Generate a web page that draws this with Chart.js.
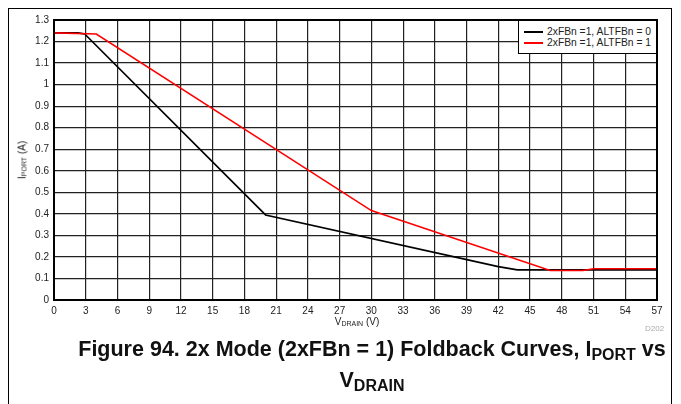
<!DOCTYPE html>
<html>
<head>
<meta charset="utf-8">
<script src="https://cdn.jsdelivr.net/npm/chart.js@4/dist/chart.umd.min.js"></script>
<style>
  body { margin: 0; background: #fff; font-family: "Liberation Sans", Arial, sans-serif; }
  #wrap { position: relative; width: 681px; height: 404px; overflow: hidden; }
  #frame { position: absolute; left: 8px; top: 8px; width: 664px; height: 420px; border: 1.5px solid #000; box-sizing: border-box; }
  canvas { position: absolute; left: 0; top: 0; }
  .lbl { position: absolute; color: #222; font-size: 10px; white-space: nowrap; }
  .lbl sub { font-size: 7px; vertical-align: -1px; }
  #ytitle { left: 22px; top: 160px; transform: translate(-50%, -50%) rotate(-90deg); }
  #xtitle { left: 357px; top: 316px; transform: translateX(-50%); }
  #code { left: 645px; top: 324px; font-size: 8px; color: #aaa; }
  #legend { position: absolute; left: 518px; top: 20px; width: 139px; height: 34px; border: 1.5px solid #000; background: #fff; box-sizing: border-box; font-size: 10.3px; color: #222; }
  #legend div { position: relative; height: 11px; line-height: 11px; padding-left: 28px; }
  #legend div span { position: absolute; left: 5px; top: 5px; width: 19px; height: 1.5px; }
  #caption { position: absolute; left: 0; width: 744px; top: 334px; text-align: center; font-weight: bold; font-size: 21.5px; line-height: 31px; color: #111; }
  #caption sub { font-size: 16px; vertical-align: -4px; line-height: 0; }
</style>
</head>
<body>
<div id="wrap">
  <div id="frame"></div>
  <canvas id="chart" width="681" height="404"></canvas>
  <div class="lbl" id="ytitle">I<sub>PORT</sub> (A)</div>
  <div class="lbl" id="xtitle">V<sub>DRAIN</sub> (V)</div>
  <div class="lbl" id="code">D202</div>
  <div id="legend"></div>
  <div id="caption">Figure 94. 2x Mode (2xFBn = 1) Foldback Curves, I<sub>PORT</sub> vs<br>V<sub>DRAIN</sub></div>
</div>
<script>
// series names
const nombres = ["2xFBn =1, ALTFBn = 0", "2xFBn =1, ALTFBn = 1"];
const colores = ["#000000", "#ff0000"];

// 2xFBn = 1, ALTFBn = 0
const vNegro = [0, 2.3, 2.9, 20, 42, 43.8, 57];
const iNegro = [1.24, 1.24, 1.235, 0.395, 0.155, 0.14, 0.14];

// 2xFBn = 1, ALTFBn = 1
const vRojo = [0, 4, 30, 46.9, 50, 51, 57];
const iRojo = [1.24, 1.235, 0.415, 0.137, 0.137, 0.145, 0.145];

// axes
const xMin = 0, xMax = 57, xPaso = 3;
const yMin = 0, yMax = 1.3, yPaso = 0.1;

function puntos(xs, ys) {
  return xs.map((x, i) => ({ x: x, y: ys[i] }));
}

// plot border drawn as a box round the chart area
const marco = {
  id: "marco",
  afterDraw(chart) {
    const a = chart.chartArea;
    const c = chart.ctx;
    c.save();
    c.strokeStyle = "#000";
    c.lineWidth = 2;
    c.strokeRect(a.left, a.top, a.right - a.left, a.bottom - a.top);
    c.restore();
  }
};

const ctx = document.getElementById("chart").getContext("2d");
const fuente = { family: "'Liberation Sans', Arial, sans-serif", size: 10 };

new Chart(ctx, {
  type: "line",
  data: {
    datasets: [
      { label: nombres[0], data: puntos(vNegro, iNegro), borderColor: colores[0], borderWidth: 1.6, pointRadius: 0, tension: 0, order: 2 },
      { label: nombres[1], data: puntos(vRojo, iRojo), borderColor: colores[1], borderWidth: 1.6, pointRadius: 0, tension: 0, order: 1 }
    ]
  },
  options: {
    responsive: false,
    animation: false,
    layout: { padding: { left: 0, top: 20, right: 24, bottom: 84 } },
    plugins: { legend: { display: false }, tooltip: { enabled: false } },
    scales: {
      x: {
        type: "linear", min: xMin, max: xMax,
        afterFit: s => { s.height = 20; },
        ticks: { stepSize: xPaso, color: "#222", font: fuente, padding: 5, maxRotation: 0 },
        grid: { color: "#222", lineWidth: 1.2, drawTicks: false },
        border: { display: true, color: "#000", width: 2 }
      },
      y: {
        type: "linear", min: yMin, max: yMax,
        afterFit: s => { s.width = 54; },
        ticks: { stepSize: yPaso, color: "#222", font: fuente, padding: 5, callback: v => String(+v.toFixed(1)) },
        grid: { color: "#222", lineWidth: 1.2, drawTicks: false },
        border: { display: true, color: "#000", width: 2 }
      }
    }
  },
  plugins: [marco]
});

// legend
const leyenda = document.getElementById("legend");
leyenda.style.paddingTop = "5px";
nombres.forEach((n, i) => {
  const fila = document.createElement("div");
  const linea = document.createElement("span");
  linea.style.background = colores[i];
  fila.appendChild(linea);
  fila.appendChild(document.createTextNode(n));
  leyenda.appendChild(fila);
});
</script>
</body>
</html>
